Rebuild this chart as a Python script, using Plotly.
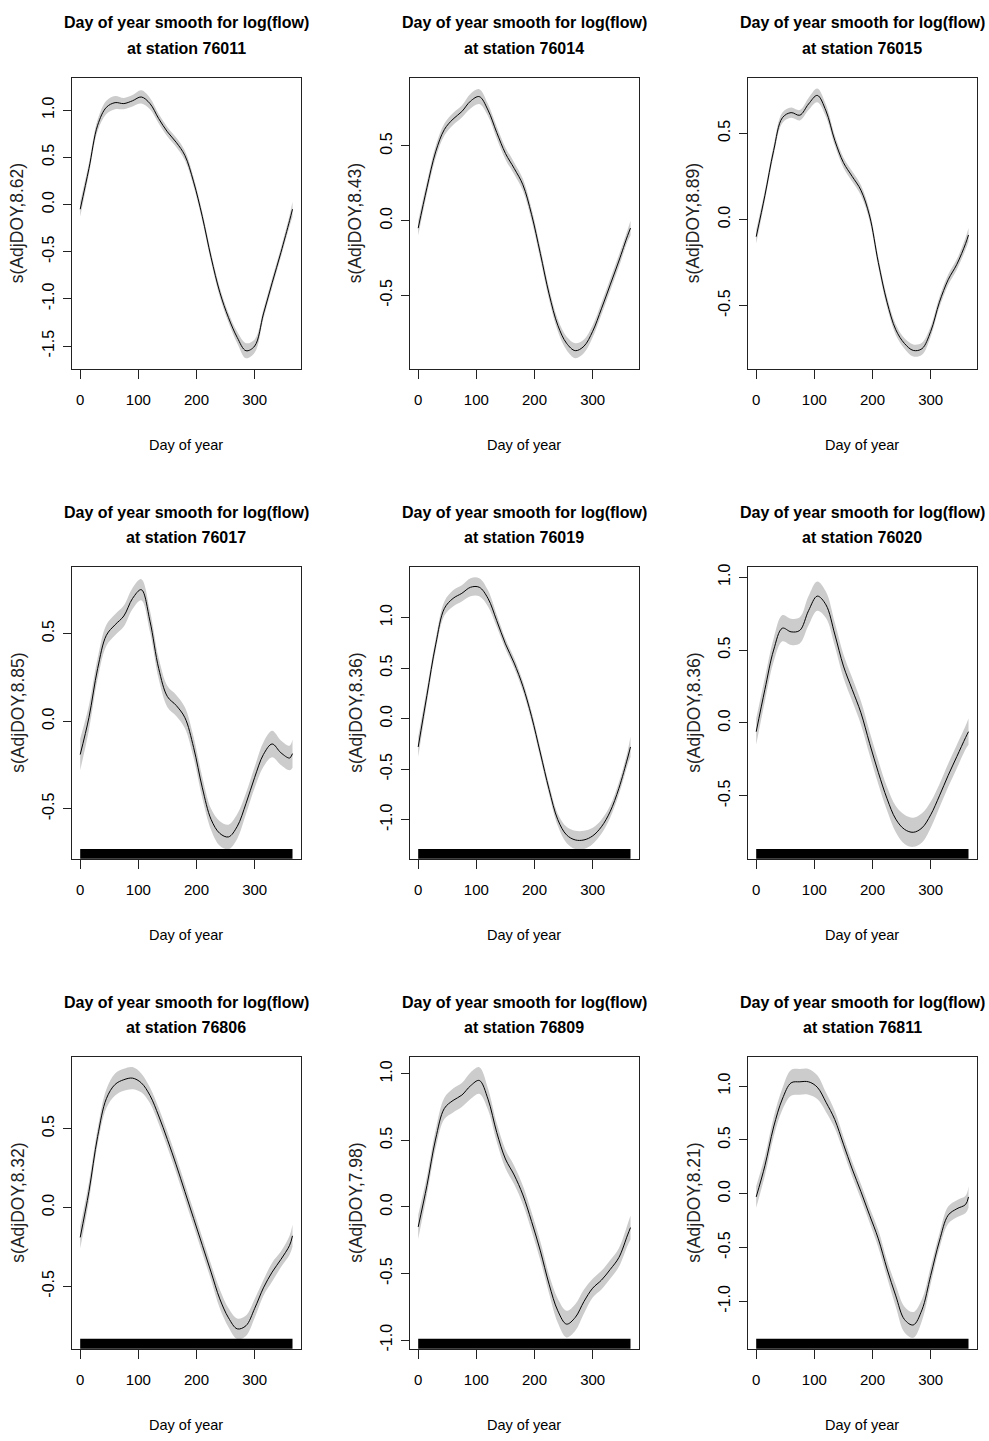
import plotly.graph_objects as go

# Day-of-year grid at which each fitted smooth is tabulated
days = [0, 15, 30, 45, 60, 75, 90, 105, 120, 135, 150, 165, 180,
        195, 210, 225, 240, 255, 270, 285, 300, 315, 330, 345, 360, 365]

stations = ["76011", "76014", "76015", "76017", "76019", "76020", "76806", "76809", "76811"]
edf = ["8.62", "8.43", "8.89", "8.85", "8.36", "8.36", "8.32", "7.98", "8.21"]
has_rug = [False, False, False, True, True, True, True, True, True]

# Fitted smooth s(AdjDOY) per station
fit_76011 = [-0.05, 0.38, 0.84, 1.03, 1.08, 1.07, 1.10, 1.14, 1.07, 0.91, 0.77, 0.66, 0.52,
             0.24, -0.13, -0.56, -0.93, -1.20, -1.41, -1.55, -1.50, -1.16, -0.83, -0.51, -0.17, -0.05]
fit_76014 = [-0.05, 0.22, 0.46, 0.61, 0.68, 0.73, 0.80, 0.83, 0.74, 0.59, 0.45, 0.35, 0.24,
             0.04, -0.22, -0.49, -0.70, -0.82, -0.87, -0.84, -0.74, -0.59, -0.43, -0.27, -0.10, -0.05]
fit_76015 = [-0.10, 0.14, 0.40, 0.59, 0.62, 0.605, 0.67, 0.72, 0.63, 0.46, 0.33, 0.25, 0.17,
             0.02, -0.25, -0.48, -0.64, -0.72, -0.76, -0.75, -0.65, -0.48, -0.35, -0.26, -0.14, -0.09]
fit_76017 = [-0.19, 0.02, 0.30, 0.49, 0.55, 0.60, 0.70, 0.75, 0.57, 0.30, 0.14, 0.09, 0.02,
             -0.15, -0.38, -0.56, -0.64, -0.66, -0.60, -0.47, -0.32, -0.19, -0.13, -0.18, -0.21, -0.185]
fit_76019 = [-0.28, 0.23, 0.73, 1.09, 1.19, 1.24, 1.30, 1.30, 1.19, 0.97, 0.74, 0.55, 0.32,
             0.02, -0.34, -0.70, -1.00, -1.15, -1.20, -1.20, -1.16, -1.07, -0.92, -0.69, -0.39, -0.28]
fit_76020 = [-0.06, 0.23, 0.50, 0.65, 0.625, 0.635, 0.77, 0.87, 0.81, 0.61, 0.39, 0.23, 0.07,
             -0.14, -0.34, -0.52, -0.66, -0.73, -0.75, -0.72, -0.63, -0.50, -0.36, -0.23, -0.10, -0.06]
fit_76806 = [-0.19, 0.10, 0.45, 0.69, 0.78, 0.81, 0.82, 0.79, 0.71, 0.58, 0.43, 0.27, 0.10,
             -0.07, -0.24, -0.41, -0.58, -0.70, -0.77, -0.75, -0.64, -0.51, -0.41, -0.33, -0.24, -0.18]
fit_76809 = [-0.15, 0.16, 0.51, 0.74, 0.80, 0.84, 0.91, 0.95, 0.81, 0.56, 0.36, 0.24, 0.09,
             -0.11, -0.33, -0.58, -0.78, -0.88, -0.83, -0.71, -0.61, -0.55, -0.47, -0.38, -0.21, -0.155]
fit_76811 = [-0.03, 0.26, 0.62, 0.88, 1.03, 1.04, 1.04, 0.99, 0.85, 0.69, 0.46, 0.23, 0.02,
             -0.20, -0.42, -0.70, -0.95, -1.17, -1.22, -1.08, -0.76, -0.44, -0.20, -0.14, -0.10, -0.03]

# Half-width of the confidence band around each smooth
ci_76011 = [0.08, 0.06, 0.06, 0.07, 0.07, 0.06, 0.06, 0.07, 0.06, 0.05, 0.05, 0.05, 0.05,
            0.05, 0.05, 0.05, 0.05, 0.05, 0.06, 0.08, 0.07, 0.05, 0.05, 0.05, 0.06, 0.08]
ci_76014 = [0.05, 0.04, 0.04, 0.04, 0.04, 0.04, 0.05, 0.05, 0.04, 0.04, 0.04, 0.04, 0.04,
            0.04, 0.04, 0.04, 0.04, 0.045, 0.05, 0.045, 0.04, 0.04, 0.04, 0.04, 0.04, 0.05]
ci_76015 = [0.04, 0.03, 0.03, 0.03, 0.03, 0.03, 0.035, 0.04, 0.035, 0.03, 0.03, 0.03, 0.03,
            0.03, 0.03, 0.03, 0.03, 0.03, 0.035, 0.035, 0.03, 0.03, 0.03, 0.03, 0.035, 0.04]
ci_76017 = [0.09, 0.07, 0.06, 0.06, 0.06, 0.06, 0.06, 0.06, 0.06, 0.06, 0.06, 0.06, 0.06,
            0.06, 0.06, 0.06, 0.07, 0.07, 0.07, 0.06, 0.06, 0.07, 0.075, 0.07, 0.07, 0.08]
ci_76019 = [0.10, 0.07, 0.06, 0.07, 0.08, 0.08, 0.09, 0.09, 0.08, 0.06, 0.05, 0.05, 0.05,
            0.05, 0.05, 0.05, 0.06, 0.08, 0.09, 0.09, 0.08, 0.07, 0.06, 0.06, 0.07, 0.10]
ci_76020 = [0.09, 0.08, 0.08, 0.09, 0.09, 0.09, 0.10, 0.10, 0.09, 0.08, 0.08, 0.08, 0.08,
            0.08, 0.08, 0.08, 0.09, 0.10, 0.10, 0.10, 0.09, 0.08, 0.08, 0.08, 0.08, 0.09]
ci_76806 = [0.07, 0.06, 0.05, 0.06, 0.07, 0.07, 0.07, 0.06, 0.05, 0.05, 0.05, 0.05, 0.05,
            0.05, 0.05, 0.05, 0.06, 0.06, 0.065, 0.065, 0.06, 0.05, 0.06, 0.05, 0.06, 0.07]
ci_76809 = [0.09, 0.07, 0.07, 0.08, 0.09, 0.09, 0.10, 0.10, 0.08, 0.07, 0.07, 0.07, 0.07,
            0.07, 0.07, 0.07, 0.09, 0.10, 0.10, 0.09, 0.07, 0.07, 0.07, 0.07, 0.08, 0.09]
ci_76811 = [0.10, 0.09, 0.09, 0.10, 0.12, 0.12, 0.12, 0.11, 0.09, 0.08, 0.07, 0.07, 0.07,
            0.07, 0.08, 0.08, 0.10, 0.12, 0.12, 0.10, 0.08, 0.07, 0.08, 0.08, 0.08, 0.10]

# Observed day-of-year span shown as the rug
rug_days = [0, 365]

# Axis ticks and ranges per panel
x_ticks = [0, 100, 200, 300]
y_ticks = [
    [-1.5, -1.0, -0.5, 0.0, 0.5, 1.0],
    [-0.5, 0.0, 0.5],
    [-0.5, 0.0, 0.5],
    [-0.5, 0.0, 0.5],
    [-1.0, -0.5, 0.0, 0.5, 1.0, 1.5],
    [-0.5, 0.0, 0.5, 1.0],
    [-0.5, 0.0, 0.5],
    [-1.0, -0.5, 0.0, 0.5, 1.0],
    [-1.0, -0.5, 0.0, 0.5, 1.0],
]
y_ranges = [
    [-1.746, 1.345], [-0.994, 0.957], [-0.869, 0.823],
    [-0.785, 0.878], [-1.387, 1.498], [-0.932, 1.068],
    [-0.896, 0.953], [-1.065, 1.125], [-1.441, 1.269],
]
x_range = [-14.6, 379.6]

fits = [fit_76011, fit_76014, fit_76015, fit_76017, fit_76019,
        fit_76020, fit_76806, fit_76809, fit_76811]
cis = [ci_76011, ci_76014, ci_76015, ci_76017, ci_76019,
       ci_76020, ci_76806, ci_76809, ci_76811]

W, H = 989, 1441
col_left = [71.7, 409.7, 747.7]
row_top = [74.0, 566.0, 1058.3]
plot_w, plot_h = 229.3, 293.0

FONT = "Liberation Sans, Arial, sans-serif"

fig = go.Figure()
layout = dict(
    width=W, height=H,
    margin=dict(l=0, r=0, t=0, b=0),
    paper_bgcolor="white", plot_bgcolor="white",
    showlegend=False,
)
annotations = []
shapes = []


def paper_y(px):
    return 1 - px / H


for i, st in enumerate(stations):
    r, c = divmod(i, 3)
    n = "" if i == 0 else str(i + 1)
    xa, ya = "x" + n, "y" + n
    left, top = col_left[c], row_top[r]
    bottom = top + plot_h
    fit = fits[i]
    upper = [f + e for f, e in zip(fit, cis[i])]
    lower = [f - e for f, e in zip(fit, cis[i])]

    fig.add_trace(go.Scatter(x=days, y=upper, mode="lines",
                             line=dict(width=0, shape="spline", color="#cccccc"),
                             xaxis=xa, yaxis=ya, hoverinfo="skip"))
    fig.add_trace(go.Scatter(x=days, y=lower, mode="lines",
                             line=dict(width=0, shape="spline", color="#cccccc"),
                             fill="tonexty", fillcolor="#cccccc", xaxis=xa, yaxis=ya, hoverinfo="skip"))
    fig.add_trace(go.Scatter(x=days, y=fit, mode="lines",
                             line=dict(width=1, shape="spline", color="black"),
                             xaxis=xa, yaxis=ya))

    layout["xaxis" + n] = dict(
        domain=[left / W, (left + plot_w) / W], anchor=ya, range=x_range,
        tickmode="array", tickvals=x_ticks, ticktext=[str(v) for v in x_ticks],
        ticks="outside", ticklen=9, tickwidth=1, tickcolor="#222",
        showline=True, mirror=True, linecolor="#222", linewidth=1,
        showgrid=False, zeroline=False, ticklabelstandoff=8,
        tickfont=dict(family=FONT, size=15, color="black"),
    )
    layout["yaxis" + n] = dict(
        domain=[paper_y(bottom), paper_y(top)], anchor=xa, range=y_ranges[i],
        tickmode="array", tickvals=y_ticks[i], ticktext=["%.1f" % v for v in y_ticks[i]],
        tickangle=-90, ticks="outside", ticklen=8, tickwidth=1, tickcolor="#222",
        showline=True, mirror=True, linecolor="#222", linewidth=1,
        showgrid=False, zeroline=False, ticklabelstandoff=2,
        tickfont=dict(family=FONT, size=16, color="black"),
    )

    cx = (left + plot_w / 2) / W
    # two-line bold panel title
    for text, dy in (("Day of year smooth for log(flow)", 55), ("at station %s" % st, 29.5)):
        annotations.append(dict(
            text="<b>%s</b>" % text, x=cx, y=paper_y(top - dy), xref="paper", yref="paper",
            xanchor="center", yanchor="middle", showarrow=False,
            font=dict(family=FONT, size=16, color="black"),
        ))
    annotations.append(dict(
        text="Day of year", x=cx, y=paper_y(bottom + 76.5), xref="paper", yref="paper",
        xanchor="center", yanchor="middle", showarrow=False,
        font=dict(family=FONT, size=14.5, color="black"),
    ))
    annotations.append(dict(
        text="s(AdjDOY,%s)" % edf[i], x=(left - 54) / W, y=paper_y(top + plot_h / 2),
        xref="paper", yref="paper", xanchor="center", yanchor="middle", textangle=-90,
        showarrow=False, font=dict(family=FONT, size=17.5, color="#222"),
    ))
    if has_rug[i]:
        shapes.append(dict(
            type="rect", xref=xa, yref=ya + " domain",
            x0=rug_days[0], x1=rug_days[-1], y0=0, y1=0.034,
            fillcolor="black", line=dict(width=0), layer="above",
        ))

layout["annotations"] = annotations
layout["shapes"] = shapes
fig.update_layout(**layout)
fig.write_html("out.html")
